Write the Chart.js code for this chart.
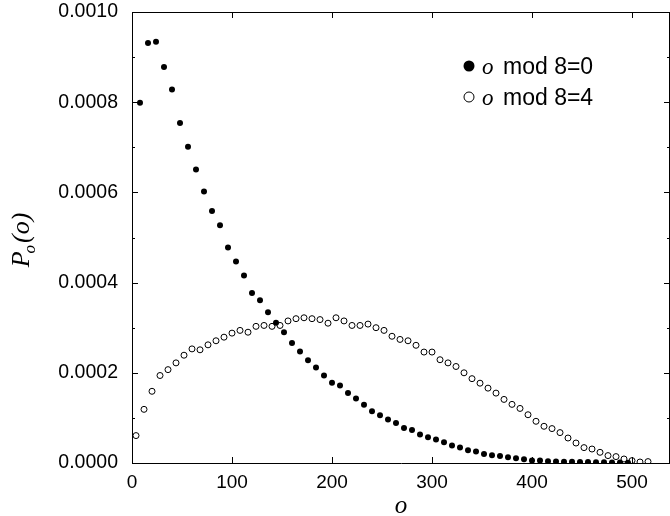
<!DOCTYPE html>
<html>
<head>
<meta charset="utf-8">
<script src="https://cdn.jsdelivr.net/npm/chart.js@4/dist/chart.umd.min.js"></script>
<style>
  html, body { margin: 0; padding: 0; background: #fff; }
  #wrap { width: 670px; height: 516px; }
</style>
</head>
<body>
<div id="wrap"><canvas id="chart" width="670" height="516"></canvas></div>
<script>
// o mod 8 = 0  (filled circles)
const oMod0 = [8, 16, 24, 32, 40, 48, 56, 64, 72, 80, 88, 96, 104, 112, 120, 128, 136, 144, 152, 160,
    168, 176, 184, 192, 200, 208, 216, 224, 232, 240, 248, 256, 264, 272, 280, 288, 296, 304, 312, 320,
    328, 336, 344, 352, 360, 368, 376, 384, 392, 400, 408, 416, 424, 432, 440, 448, 456, 464, 472, 480, 488, 496];
const pMod0 = [0.000799, 0.000931, 0.000934, 0.000878, 0.000828, 0.000754, 0.000701, 0.000651, 0.000602, 0.000559,
    0.000527, 0.000478, 0.000447, 0.000416, 0.000377, 0.000361, 0.000334, 0.000311, 0.000290, 0.000266,
    0.000247, 0.000228, 0.000212, 0.000194, 0.000178, 0.000172, 0.000155, 0.000143, 0.000129, 0.000115,
    0.000106, 0.0000962, 0.0000887, 0.0000776, 0.0000732, 0.0000630, 0.0000570, 0.0000519, 0.0000459, 0.0000386,
    0.0000341, 0.0000282, 0.0000253, 0.0000200, 0.0000171, 0.0000155, 0.0000126, 0.0000104, 0.0000082, 0.0000053,
    0.0000053, 0.0000040, 0.0000033, 0.0000030, 0.0000025, 0.0000020, 0.0000020, 0.0000015, 0.0000015, 0.0000010,
    0.0000010, 0.0000005];

// o mod 8 = 4  (open circles)
const oMod4 = [4, 12, 20, 28, 36, 44, 52, 60, 68, 76, 84, 92, 100, 108, 116, 124, 132, 140, 148, 156,
    164, 172, 180, 188, 196, 204, 212, 220, 228, 236, 244, 252, 260, 268, 276, 284, 292, 300, 308, 316,
    324, 332, 340, 348, 356, 364, 372, 380, 388, 396, 404, 412, 420, 428, 436, 444, 452, 460, 468, 476,
    484, 492, 500, 508, 516];
const pMod4 = [0.0000608, 0.000119, 0.000159, 0.000194, 0.000207, 0.000222, 0.000239, 0.000253, 0.000251, 0.000262,
    0.000271, 0.000279, 0.000288, 0.000294, 0.000290, 0.000303, 0.000305, 0.000303, 0.000305, 0.000315,
    0.000320, 0.000322, 0.000320, 0.000318, 0.000310, 0.000322, 0.000315, 0.000305, 0.000305, 0.000308,
    0.000300, 0.000294, 0.000281, 0.000274, 0.000271, 0.000261, 0.000246, 0.000246, 0.000229, 0.000222,
    0.000214, 0.000200, 0.000187, 0.000177, 0.000166, 0.000155, 0.000141, 0.000130, 0.000121, 0.000107,
    0.0000925, 0.0000814, 0.0000763, 0.0000674, 0.0000554, 0.0000443, 0.0000341, 0.0000310, 0.0000237, 0.0000164,
    0.0000142, 0.0000089, 0.0000053, 0.0000022, 0.0000031];

const xTicks = [0, 100, 200, 300, 400, 500];
const yTicks = [0, 0.0002, 0.0004, 0.0006, 0.0008, 0.0010];
const yMinorTicks = [0.0001, 0.0003, 0.0005, 0.0007, 0.0009];
const legendLabels = ['mod 8=0', 'mod 8=4'];

const toPoints = (xs, ys) => xs.map((x, i) => ({ x: x, y: ys[i] }));

// drop the label overhang padding so the plot box sits where we want it
const noOverhang = axis => {
    axis.paddingLeft = 0;
    axis.paddingRight = 0;
    axis.paddingTop = 0;
    axis.paddingBottom = 0;
};

// frame, inward ticks, axis titles and legend
const decorations = {
    id: 'decorations',
    afterDraw(chart) {
        const ctx = chart.ctx;
        const area = chart.chartArea;
        const xs = chart.scales.x;
        const ys = chart.scales.y;
        ctx.save();
        ctx.strokeStyle = '#000';
        ctx.lineWidth = 1;
        ctx.beginPath();
        ctx.moveTo(area.left, area.top + 0.5);
        ctx.lineTo(area.right, area.top + 0.5);
        ctx.moveTo(area.right - 0.5, area.top);
        ctx.lineTo(area.right - 0.5, area.bottom);
        xTicks.forEach(v => {
            const px = Math.round(xs.getPixelForValue(v)) + 0.5;
            ctx.moveTo(px, area.bottom);
            ctx.lineTo(px, area.bottom - 6);
            ctx.moveTo(px, area.top);
            ctx.lineTo(px, area.top + 6);
        });
        yTicks.forEach(v => {
            const py = Math.round(ys.getPixelForValue(v)) + 0.5;
            ctx.moveTo(area.left, py);
            ctx.lineTo(area.left + 6, py);
            ctx.moveTo(area.right, py);
            ctx.lineTo(area.right - 6, py);
        });
        yMinorTicks.forEach(v => {
            const py = Math.round(ys.getPixelForValue(v)) + 0.5;
            ctx.moveTo(area.left, py);
            ctx.lineTo(area.left + 3, py);
            ctx.moveTo(area.right, py);
            ctx.lineTo(area.right - 3, py);
        });
        ctx.stroke();

        // x title
        ctx.fillStyle = '#000';
        ctx.font = 'italic 25px "Liberation Serif"';
        ctx.textAlign = 'center';
        ctx.textBaseline = 'alphabetic';
        ctx.fillText('o', 401, 513);

        // y title P_o(o), rotated
        ctx.save();
        ctx.translate(29, 240);
        ctx.rotate(-Math.PI / 2);
        ctx.textAlign = 'left';
        ctx.font = 'italic 26px "Liberation Serif"';
        const wP = ctx.measureText('P').width;
        ctx.font = 'italic 17px "Liberation Serif"';
        const wSub = ctx.measureText('o').width;
        ctx.font = 'italic 26px "Liberation Serif"';
        const wRest = ctx.measureText('(o)').width;
        const x0 = -(wP + wSub + wRest) / 2;
        ctx.fillText('P', x0, 0);
        ctx.font = 'italic 17px "Liberation Serif"';
        ctx.fillText('o', x0 + wP - 2, 6);
        ctx.font = 'italic 26px "Liberation Serif"';
        ctx.fillText('(o)', x0 + wP + wSub, 0);
        ctx.restore();

        // legend
        const rows = [{ y: 66, filled: true }, { y: 97, filled: false }];
        rows.forEach((r, i) => {
            ctx.beginPath();
            ctx.arc(469, r.y, r.filled ? 5.5 : 5, 0, Math.PI * 2);
            if (r.filled) {
                ctx.fill();
            } else {
                ctx.lineWidth = 1;
                ctx.stroke();
            }
            ctx.textAlign = 'left';
            ctx.font = 'italic 23px "Liberation Serif"';
            ctx.fillText('o', 482, r.y + 8);
            ctx.font = '23px "Liberation Sans"';
            ctx.fillText(legendLabels[i], 503, r.y + 8);
        });
        ctx.restore();
    }
};

const ctx = document.getElementById('chart').getContext('2d');
const chart = new Chart(ctx, {
    type: 'scatter',
    data: {
        datasets: [{
            label: 'o mod 8=0',
            data: toPoints(oMod0, pMod0),
            pointRadius: 3,
            pointBackgroundColor: '#000',
            pointBorderColor: '#000',
            pointBorderWidth: 0,
        }, {
            label: 'o mod 8=4',
            data: toPoints(oMod4, pMod4),
            pointRadius: 3,
            pointBackgroundColor: 'rgba(255,255,255,0)',
            pointBorderColor: '#000',
            pointBorderWidth: 1,
        }]
    },
    options: {
        responsive: false,
        animation: false,
        layout: { autoPadding: false, padding: { top: 12, right: 0, left: 0, bottom: 0 } },
        plugins: {
            legend: { display: false },
            tooltip: { enabled: false }
        },
        scales: {
            x: {
                type: 'linear',
                min: 0,
                max: 538,
                grid: { display: false, drawTicks: false },
                border: { display: true, color: '#000', width: 1 },
                afterBuildTicks: axis => { axis.ticks = xTicks.map(v => ({ value: v })); },
                afterFit: axis => { axis.height = 53; noOverhang(axis); },
                ticks: {
                    padding: 8,
                    color: '#000',
                    maxRotation: 0,
                    font: { family: '"Liberation Sans"', size: 19 },
                    callback: v => String(v)
                }
            },
            y: {
                type: 'linear',
                min: 0,
                max: 0.001,
                grid: { display: false, drawTicks: false },
                border: { display: true, color: '#000', width: 1 },
                afterBuildTicks: axis => { axis.ticks = yTicks.map(v => ({ value: v })); },
                afterFit: axis => { axis.width = 132; noOverhang(axis); },
                ticks: {
                    padding: 14,
                    color: '#000',
                    font: { family: '"Liberation Sans"', size: 19.5 },
                    callback: v => v.toFixed(4)
                }
            }
        }
    },
    plugins: [decorations]
});
</script>
</body>
</html>
